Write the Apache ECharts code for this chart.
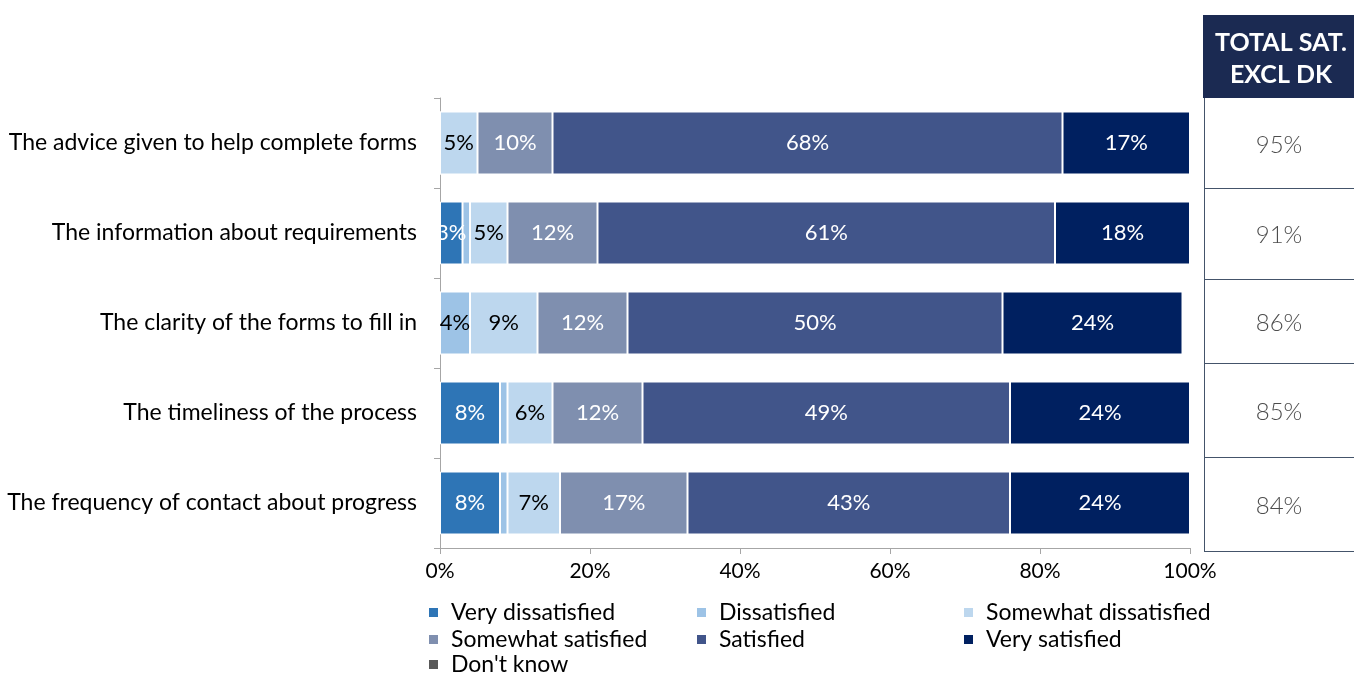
<!DOCTYPE html>
<html>
<head>
<meta charset="utf-8">
<script src="https://cdn.jsdelivr.net/npm/echarts@6/dist/echarts.min.js"></script>
<style>
  html, body { margin: 0; padding: 0; background: #fff; }
  #chart { width: 1354px; height: 675px; }
</style>
</head>
<body>
<div id="chart"></div>
<script>
// Survey items (top to bottom)
const categories = [
  'The advice given to help complete forms',
  'The information about requirements',
  'The clarity of the forms to fill in',
  'The timeliness of the process',
  'The frequency of contact about progress'
];

// Share of respondents (%) per answer
const veryDissatisfied     = [0, 3, 0, 8, 8];
const dissatisfied         = [0, 1, 4, 1, 1];
const somewhatDissatisfied = [5, 5, 9, 6, 7];
const somewhatSatisfied    = [10, 12, 12, 12, 17];
const satisfied            = [68, 61, 50, 49, 43];
const verySatisfied        = [17, 18, 24, 24, 24];
const dontKnow             = [0, 0, 0, 0, 0];

// Total satisfaction excluding "don't know" (%)
const totalSat = [95, 91, 86, 85, 84];

const xTicks = [0, 20, 40, 60, 80, 100];

const FONT = 'Lato, "Source Sans Pro", "Noto Sans", sans-serif';

const seriesDefs = [
  { name: 'Very dissatisfied',     data: veryDissatisfied,     color: '#2E75B6', text: '#fff' },
  { name: 'Dissatisfied',          data: dissatisfied,         color: '#9DC3E6', text: '#000' },
  { name: 'Somewhat dissatisfied', data: somewhatDissatisfied, color: '#BDD7EE', text: '#000' },
  { name: 'Somewhat satisfied',    data: somewhatSatisfied,    color: '#7F8FAF', text: '#fff' },
  { name: 'Satisfied',             data: satisfied,            color: '#41558A', text: '#fff' },
  { name: 'Very satisfied',        data: verySatisfied,        color: '#002060', text: '#fff' },
  { name: "Don't know",            data: dontKnow,             color: '#595959', text: '#fff' }
];

const series = seriesDefs.map(s => ({
  name: s.name,
  type: 'bar',
  stack: 'total',
  barCategoryGap: '30%',
  data: s.data,
  itemStyle: { color: s.color, borderColor: '#fff', borderWidth: 1 },
  label: {
    show: true,
    position: 'inside',
    color: s.text,
    fontFamily: FONT,
    fontSize: 22,
    formatter: p => (p.value >= 2 ? p.value + '%' : '')
  },
  emphasis: { disabled: true }
}));

// Legend laid out as three columns, three rows
const legendText = { fontFamily: FONT, fontSize: 23, color: '#000', lineHeight: 22, padding: [0, 0, 0, 7] };
const legendBase = {
  orient: 'vertical',
  itemWidth: 11,
  itemHeight: 11,
  itemGap: 4,
  padding: 0,
  icon: 'rect',
  textStyle: legendText,
  selectedMode: false
};
const legendRowTop = [601, 627, 653];

const chart = echarts.init(document.getElementById('chart'));

chart.setOption({
  animation: false,
  grid: { left: 440, right: 164, top: 98, bottom: 127, containLabel: false },
  xAxis: {
    type: 'value',
    min: 0,
    max: 100,
    interval: 20,
    axisLine: { show: true, lineStyle: { color: '#A6A6A6', width: 1 } },
    axisTick: { show: true, length: 6, lineStyle: { color: '#A6A6A6' } },
    splitLine: { show: false },
    axisLabel: {
      color: '#000', fontFamily: FONT, fontSize: 21, margin: 13,
      formatter: v => (xTicks.includes(v) ? v + '%' : '')
    }
  },
  yAxis: {
    type: 'category',
    inverse: true,
    data: categories,
    axisLine: { show: true, lineStyle: { color: '#A6A6A6', width: 1 } },
    axisTick: { show: true, length: 6, lineStyle: { color: '#A6A6A6' } },
    axisLabel: { color: '#000', fontFamily: FONT, fontSize: 23, margin: 23 }
  },
  legend: [
    Object.assign({}, legendBase, { left: 427, top: legendRowTop[0], data: ['Very dissatisfied', 'Somewhat satisfied'] }),
    Object.assign({}, legendBase, { left: 427, top: legendRowTop[2], data: ["Don't know"] }),
    Object.assign({}, legendBase, { left: 695, top: legendRowTop[0], data: ['Dissatisfied', 'Satisfied'] }),
    Object.assign({}, legendBase, { left: 962, top: legendRowTop[0], data: ['Somewhat dissatisfied', 'Very satisfied'] })
  ],
  series: series
});

// Side table: total satisfaction per item
const tableX = 1204;
const tableW = 150;
const cellEdges = [98, 188, 279, 363, 457, 551];
const lineColor = '#44546A';
const graphic = [
  { type: 'rect', shape: { x: 1203, y: 15, width: 151, height: 83 }, style: { fill: '#1B2A52' } },
  { type: 'text', x: tableX + tableW / 2 + 2, y: 43, style: { text: 'TOTAL SAT.', fill: '#fff', font: 'bold 25px ' + FONT, align: 'center', verticalAlign: 'middle' } },
  { type: 'text', x: tableX + tableW / 2 + 2, y: 75, style: { text: 'EXCL DK', fill: '#fff', font: 'bold 25px ' + FONT, align: 'center', verticalAlign: 'middle' } },
  { type: 'line', shape: { x1: tableX + 0.5, y1: 98, x2: tableX + 0.5, y2: 551 }, style: { stroke: lineColor, lineWidth: 1 } }
];
cellEdges.slice(1).forEach(y => {
  graphic.push({ type: 'line', shape: { x1: tableX, y1: y + 0.5, x2: tableX + tableW, y2: y + 0.5 }, style: { stroke: lineColor, lineWidth: 1 } });
});
totalSat.forEach((v, i) => {
  const yc = (cellEdges[i] + cellEdges[i + 1]) / 2 + 2;
  graphic.push({ type: 'text', x: tableX + tableW / 2, y: yc, style: { text: v + '%', fill: '#4D4D4D', font: '300 24px ' + FONT, align: 'center', verticalAlign: 'middle' } });
});
chart.setOption({ graphic: graphic });
</script>
</body>
</html>
